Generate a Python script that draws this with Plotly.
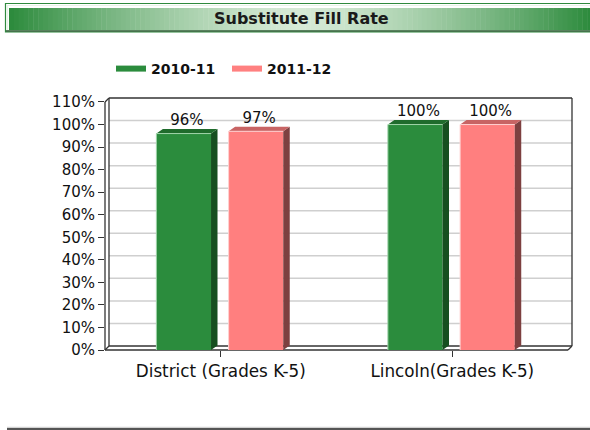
import plotly.graph_objects as go

# ---- data -------------------------------------------------------------
categories = ["District (Grades K-5)", "Lincoln(Grades K-5)"]
series_names = ["2010-11", "2011-12"]
rate_2010_11 = [96, 100]
rate_2011_12 = [97, 100]
y_ticks = [0, 10, 20, 30, 40, 50, 60, 70, 80, 90, 100, 110]
y_tick_labels = ["0%", "10%", "20%", "30%", "40%", "50%", "60%",
                 "70%", "80%", "90%", "100%", "110%"]

# ---- styling ----------------------------------------------------------
W, H = 590, 430
PL, PR, PT, PB = 105, 568, 98, 350          # front plot box in pixels
Y_MAX = 111.77                               # value axis top
FONT = "DejaVu Sans"

styles = [
    dict(front="#2b8c3d", side="#164f20", top="#1f6b2c", edge="#9fd3a8"),
    dict(front="#ff7f7f", side="#7d4040", top="#c86464", edge="#ffd0d0"),
]
legend_colors = ["#2b8c3d", "#ff8080"]

BAR_W = 0.236                 # bar width in category units
OFFSETS = [-0.278, 0.034]     # left edge of each series' bar
DX = 0.028                    # depth of the bars along x (category units)
DY = 2.0                      # depth of the bars along y (value units)


def px(x):
    return (x - PL) / (PR - PL)


def py(y):
    return (PB - y) / (PB - PT)


fig = go.Figure()
positions = list(range(len(categories)))
series = [rate_2010_11, rate_2011_12]

for s, (name, vals, st) in enumerate(zip(series_names, series, styles)):
    off = OFFSETS[s]
    # front faces
    fig.add_trace(go.Bar(
        x=positions, y=vals, width=BAR_W, offset=off,
        marker=dict(color=st["front"], line=dict(width=0)),
        showlegend=False, hoverinfo="skip",
    ))
    # side and top faces
    side_x, side_y, top_x, top_y, edge_x, edge_y = [], [], [], [], [], []
    for p, v in zip(positions, vals):
        xl = p + off
        xr = xl + BAR_W
        side_x += [xr, xr, xr + DX, xr + DX, xr, None]
        side_y += [0, v, v + DY, DY, 0, None]
        top_x += [xl, xr, xr + DX, xl + DX, xl, None]
        top_y += [v, v, v + DY, v + DY, v, None]
        edge_x += [xl, xl, xr, None]
        edge_y += [0, v, v, None]
    fig.add_trace(go.Scatter(
        x=side_x, y=side_y, mode="lines", fill="toself",
        fillcolor=st["side"], line=dict(width=0),
        showlegend=False, hoverinfo="skip",
    ))
    fig.add_trace(go.Scatter(
        x=top_x, y=top_y, mode="lines", fill="toself",
        fillcolor=st["top"], line=dict(width=0),
        showlegend=False, hoverinfo="skip",
    ))
    fig.add_trace(go.Scatter(
        x=edge_x, y=edge_y, mode="lines",
        line=dict(width=1, color=st["edge"]),
        showlegend=False, hoverinfo="skip",
    ))
    # value labels
    fig.add_trace(go.Scatter(
        x=[p + off + BAR_W / 2 + DX / 2 for p in positions],
        y=[v + DY for v in vals],
        text=[f"{v}%" for v in vals],
        mode="text", textposition="top center",
        textfont=dict(family=FONT, size=15, color="#111111"),
        showlegend=False, hoverinfo="skip", cliponaxis=False,
    ))

# legend entries drawn as thick line samples
for name, col in zip(series_names, legend_colors):
    fig.add_trace(go.Scatter(
        x=[None], y=[None], mode="lines", name=name,
        line=dict(color=col, width=6),
    ))

shapes = []

# back wall gridlines (drawn 4px up-right of the front axis)
for t in y_ticks[1:-1]:
    shapes.append(dict(
        type="line", xref="paper", yref="y",
        x0=px(109), x1=px(572), ysizemode="pixel", yanchor=t, y0=4, y1=4,
        line=dict(color="#cfcfcf", width=1.5), layer="below",
    ))

# wall, floor and axis frame
frame = "#333333"
frame_segments = [
    ((105, 102), (105, 350)),
    ((105, 102), (109, 98)),
    ((109, 98), (109, 346)),
    ((109, 98), (572, 98)),
    ((572, 98), (572, 346)),
    ((109, 346), (572, 346)),
    ((105, 350), (568, 350)),
    ((572, 346), (568, 350)),
    ((109, 346), (105, 350)),
]
for (x0, y0), (x1, y1) in frame_segments:
    shapes.append(dict(
        type="line", xref="paper", yref="paper",
        x0=px(x0), y0=py(y0), x1=px(x1), y1=py(y1),
        line=dict(color=frame, width=1.3), layer="below",
    ))

# title banner with a horizontal green gradient
dark = (43, 138, 59)
light = (214, 234, 214)
bx0, bx1 = 9, 592
n_strips = 120
for i in range(n_strips):
    a = bx0 + (bx1 - bx0) * i / n_strips
    b = bx0 + (bx1 - bx0) * (i + 1) / n_strips
    t = (i + 0.5) / n_strips
    k = abs(2 * t - 1) ** 1.4
    c = tuple(round(l + (d - l) * k) for l, d in zip(light, dark))
    shapes.append(dict(
        type="rect", xref="paper", yref="paper",
        x0=px(a), x1=px(b) + 0.001, y0=py(30), y1=py(8),
        fillcolor="rgb(%d,%d,%d)" % c, line=dict(width=0), layer="above",
    ))
shapes += [
    dict(type="rect", xref="paper", yref="paper",
         x0=px(5.5), x1=px(600), y0=py(32), y1=py(3.5),
         line=dict(color="#2f8a3e", width=1.2), layer="above"),
    dict(type="rect", xref="paper", yref="paper",
         x0=px(7.5), x1=px(600), y0=py(30.5), y1=py(5.5),
         line=dict(color="#e8f4e8", width=1.2), layer="above"),
    dict(type="line", xref="paper", yref="paper",
         x0=px(6), x1=px(600), y0=py(31), y1=py(31),
         line=dict(color="#2a5a30", width=1.5), layer="above"),
]

# bottom rule
shapes += [
    dict(type="line", xref="paper", yref="paper",
         x0=px(7), x1=px(600), y0=py(427.3), y1=py(427.3),
         line=dict(color="#c8c8c8", width=1)),
    dict(type="line", xref="paper", yref="paper",
         x0=px(7), x1=px(600), y0=py(429), y1=py(429),
         line=dict(color="#555555", width=2)),
]

fig.update_layout(
    width=W, height=H,
    margin=dict(l=PL, r=W - PR, t=PT, b=H - PB, pad=0),
    paper_bgcolor="white", plot_bgcolor="rgba(0,0,0,0)",
    barmode="overlay",
    shapes=shapes,
    annotations=[dict(
        text="Substitute Fill Rate", xref="paper", yref="paper",
        x=px(301), y=py(18), xanchor="center", yanchor="middle",
        showarrow=False,
        font=dict(family=FONT, size=16, color="#1a1a1a", weight="bold"),
    )],
    legend=dict(
        orientation="h", x=px(111), y=py(69), xanchor="left",
        yanchor="middle", bgcolor="rgba(0,0,0,0)",
        entrywidth=71, entrywidthmode="pixels",
        font=dict(family=FONT, size=14, color="#111111", weight="bold"),
        itemclick=False, itemdoubleclick=False,
    ),
    xaxis=dict(
        range=[-0.5, 1.5], tickvals=positions, ticktext=categories,
        ticks="outside", ticklen=6, tickcolor=frame, tickwidth=1.3,
        showgrid=False, zeroline=False, showline=False, fixedrange=True,
        tickfont=dict(family=FONT, size=16.8, color="#111111"),
    ),
    yaxis=dict(
        range=[0, Y_MAX], tickvals=y_ticks, ticktext=y_tick_labels,
        ticks="outside", ticklen=6, tickcolor=frame, tickwidth=1.3,
        showgrid=False, zeroline=False, showline=False, fixedrange=True,
        tickfont=dict(family=FONT, size=15, color="#111111"),
    ),
    hovermode=False,
)

fig.write_html("out.html", config=dict(displayModeBar=False))
